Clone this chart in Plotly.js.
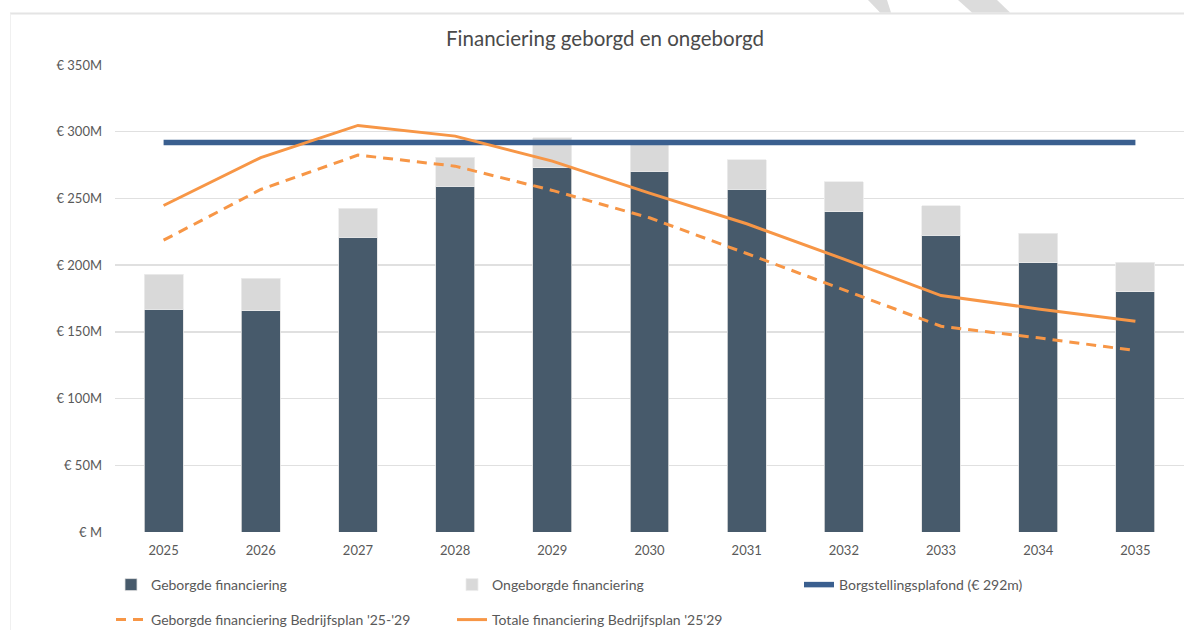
<!DOCTYPE html>
<html>
<head>
<meta charset="utf-8">
<script src="https://cdn.plot.ly/plotly-3.0.1.min.js"></script>
<style>
  html, body { margin: 0; padding: 0; background: #ffffff; }
  #chart { width: 1184px; height: 630px; }
</style>
</head>
<body>
<div id="chart"></div>
<script>
// ---- data (values in € millions) ----
const years = ['2025','2026','2027','2028','2029','2030','2031','2032','2033','2034','2035'];
const geborgd = [167, 166, 221, 259, 273, 270.5, 257, 240, 222.5, 201.7, 180];
const ongeborgd = [26, 24, 21.5, 22, 22.5, 22, 22, 22.5, 22, 22.3, 22];
const plafond = [292, 292, 292, 292, 292, 292, 292, 292, 292, 292, 292];
const geborgdPlan = [218.7, 256.7, 282.5, 274.2, 256, 235.5, 208.7, 181.7, 154.2, 145.5, 136];
const totaalPlan = [244.7, 280.6, 304.7, 296.7, 278, 254, 231, 204.5, 177.2, 167.2, 158];
const yTickVals = [0, 50, 100, 150, 200, 250, 300, 350];
const yTickText = ['€ M', '€ 50M', '€ 100M', '€ 150M', '€ 200M', '€ 250M', '€ 300M', '€ 350M'];
const names = ['Geborgde financiering', 'Ongeborgde financiering', 'Borgstellingsplafond (€ 292m)',
               "Geborgde financiering Bedrijfsplan '25-'29", "Totale financiering Bedrijfsplan '25'29"];

// ---- layout geometry (pixels) ----
const W = 1184, H = 630, ML = 115, MR = 0, MT = 65, MB = 98;
const PW = W - ML - MR, PH = H - MT - MB;
const px2x = px => (px - ML) / PW;
const py2y = py => (H - MB - py) / PH;

const FONT = 'Lato, "Open Sans", sans-serif';
const TXT = '#595959';

const traces = [
  { type: 'bar', name: names[0], x: years, y: geborgd, legend: 'legend',
    marker: { color: '#475a6b', line: { color: '#e2e2e2', width: 0.8 } } },
  { type: 'bar', name: names[1], x: years, y: ongeborgd, legend: 'legend2',
    marker: { color: '#d9d9d9', line: { color: '#ececec', width: 0.8 } } },
  { type: 'scatter', mode: 'lines', name: names[2], x: years, y: plafond, legend: 'legend3',
    line: { color: '#3a5f8f', width: 5.5, shape: 'linear' } },
  { type: 'scatter', mode: 'lines', name: names[3], x: years, y: geborgdPlan, legend: 'legend4',
    line: { color: '#f79646', width: 3, dash: '10px,7px' } },
  { type: 'scatter', mode: 'lines', name: names[4], x: years, y: totaalPlan, legend: 'legend5',
    line: { color: '#f79646', width: 3 } }
];

function leg(px, py) {
  return { x: px2x(px), y: py2y(py), xanchor: 'left', yanchor: 'middle',
           orientation: 'v', bgcolor: 'rgba(0,0,0,0)',
           font: { family: FONT, size: 14, color: TXT } };
}

const layout = {
  width: W, height: H,
  margin: { l: ML, r: MR, t: MT, b: MB, pad: 0, autoexpand: false },
  paper_bgcolor: '#ffffff', plot_bgcolor: '#ffffff',
  font: { family: FONT, color: TXT },
  title: { text: 'Financiering geborgd en ongeborgd', xref: 'container', yref: 'container',
           x: 605 / W, y: 1 - 39 / H, xanchor: 'center', yanchor: 'middle',
           font: { family: FONT, size: 20.5, color: '#4a4a4a' } },
  barmode: 'stack', bargap: 0.6,
  xaxis: { type: 'category', showgrid: false, zeroline: false, showline: false, ticks: '',
           tickfont: { family: FONT, size: 13, color: TXT }, ticklabelstandoff: 9,
           range: [-0.5, 10.5], fixedrange: true },
  yaxis: { range: [0, 350], tickvals: yTickVals, ticktext: yTickText, showgrid: true,
           gridcolor: '#e0e0e0', gridwidth: 1.3, zeroline: false, showline: false, ticks: '',
           tickfont: { family: FONT, size: 13, color: TXT }, ticklabelstandoff: 12, fixedrange: true },
  showlegend: true,
  legend: leg(111, 585),
  legend2: leg(452, 585),
  legend3: leg(799, 585),
  legend4: leg(111, 620),
  legend5: leg(452, 620),
  shapes: [
    // outer frame of the chart area
    { type: 'line', xref: 'paper', yref: 'paper', x0: px2x(10), x1: px2x(W + 5), y0: py2y(13.5), y1: py2y(13.5),
      line: { color: '#e4e4e4', width: 2 } },
    { type: 'line', xref: 'paper', yref: 'paper', x0: px2x(10.5), x1: px2x(10.5), y0: py2y(13.5), y1: py2y(H + 5),
      line: { color: '#f0f0f0', width: 1 } },
    // grey diagonal marks above the frame
    { type: 'path', xref: 'paper', yref: 'paper', fillcolor: '#dcdcdc', line: { width: 0 },
      path: `M${px2x(868)},${py2y(0)} L${px2x(887)},${py2y(0)} L${px2x(891)},${py2y(12.5)} L${px2x(880)},${py2y(12.5)} Z` },
    { type: 'path', xref: 'paper', yref: 'paper', fillcolor: '#dcdcdc', line: { width: 0 },
      path: `M${px2x(958)},${py2y(0)} L${px2x(997)},${py2y(0)} L${px2x(1010)},${py2y(12.5)} L${px2x(972)},${py2y(12.5)} Z` }
  ]
};

Plotly.newPlot('chart', traces, layout, { displayModeBar: false, staticPlot: true });
</script>
</body>
</html>
